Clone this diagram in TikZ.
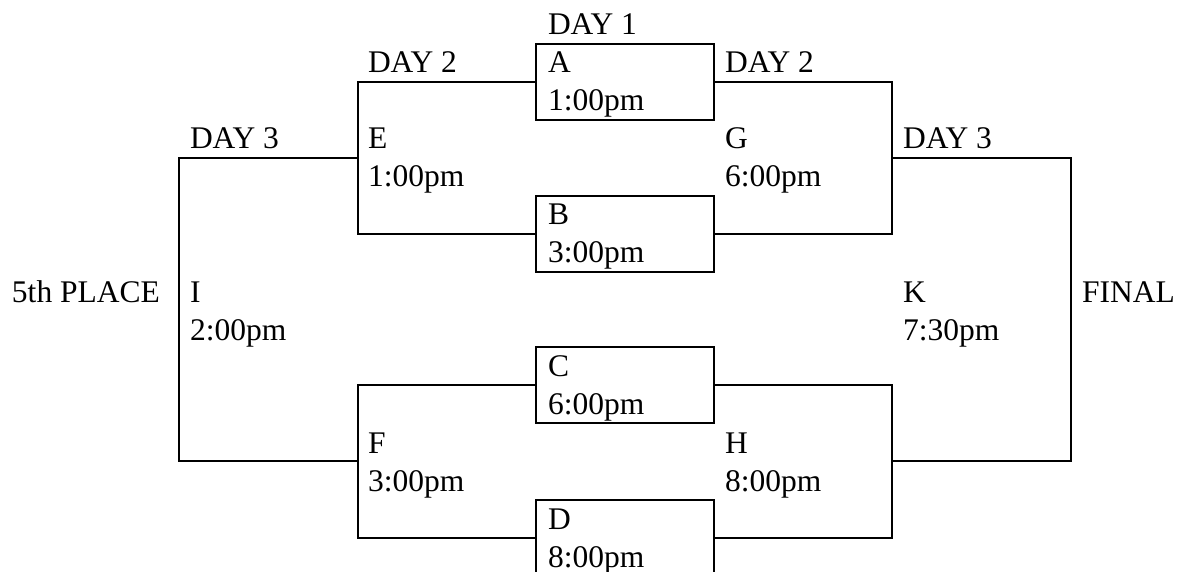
\documentclass[tikz,border=0pt]{standalone}
\usepackage{fontspec}
\setmainfont{Liberation Serif}
\tikzstyle{every node}=[inner sep=0pt,outer sep=0pt,font=\fontsize{31.5pt}{38pt}\selectfont]
\tikzstyle{game}=[draw=black,line width=2pt,minimum width=178pt,text width=154pt,inner xsep=12pt,text height=29pt,text depth=47pt,align=left]
\tikzstyle{match}=[text width=150pt,align=left,anchor=base west]
\tikzstyle{day}=[anchor=base west]

\begin{document}
\begin{tikzpicture}[x=1pt,y=-1pt,line width=2pt]
  \useasboundingbox (0,0) rectangle (1178,572);
  \node[game] (A) at (625,82) {A\\1:00pm};
  \node[game] (B) at (625,234) {B\\3:00pm};
  \node[game] (C) at (625,385) {C\\6:00pm};
  \node[game] (D) at (625,538) {D\\8:00pm};
  \coordinate (e) at (358,158);
  \coordinate (f) at (358,461);
  \coordinate (g) at (892,158);
  \coordinate (h) at (892,461);
  \coordinate (i) at (179,310);
  \coordinate (k) at (1071,310);
  \node[match] (mE) at (368,149) {E\\1:00pm};
  \node[match] (mF) at (368,453) {F\\3:00pm};
  \node[match] (mG) at (725,149) {G\\6:00pm};
  \node[match] (mH) at (725,453) {H\\8:00pm};
  \node[match] (mI) at (190,302) {I\\2:00pm};
  \node[match] (mK) at (903,302) {K\\7:30pm};
  \node[day] (day1) at (548,35) {DAY 1};
  \node[day] (day2l) at (368,73) {DAY 2};
  \node[day] (day2r) at (725,73) {DAY 2};
  \node[day] (day3l) at (190,149) {DAY 3};
  \node[day] (day3r) at (903,149) {DAY 3};
  \node[day] (fifth) at (12,302) {5th PLACE};
  \node[day] (final) at (1082,302) {FINAL};
  \draw (A.west) -| (e) |- (B.west);
  \draw (C.west) -| (f) |- (D.west);
  \draw (A.east) -| (g) |- (B.east);
  \draw (C.east) -| (h) |- (D.east);
  \draw (e) -| (i) |- (f);
  \draw (g) -| (k) |- (h);
\end{tikzpicture}
\end{document}
